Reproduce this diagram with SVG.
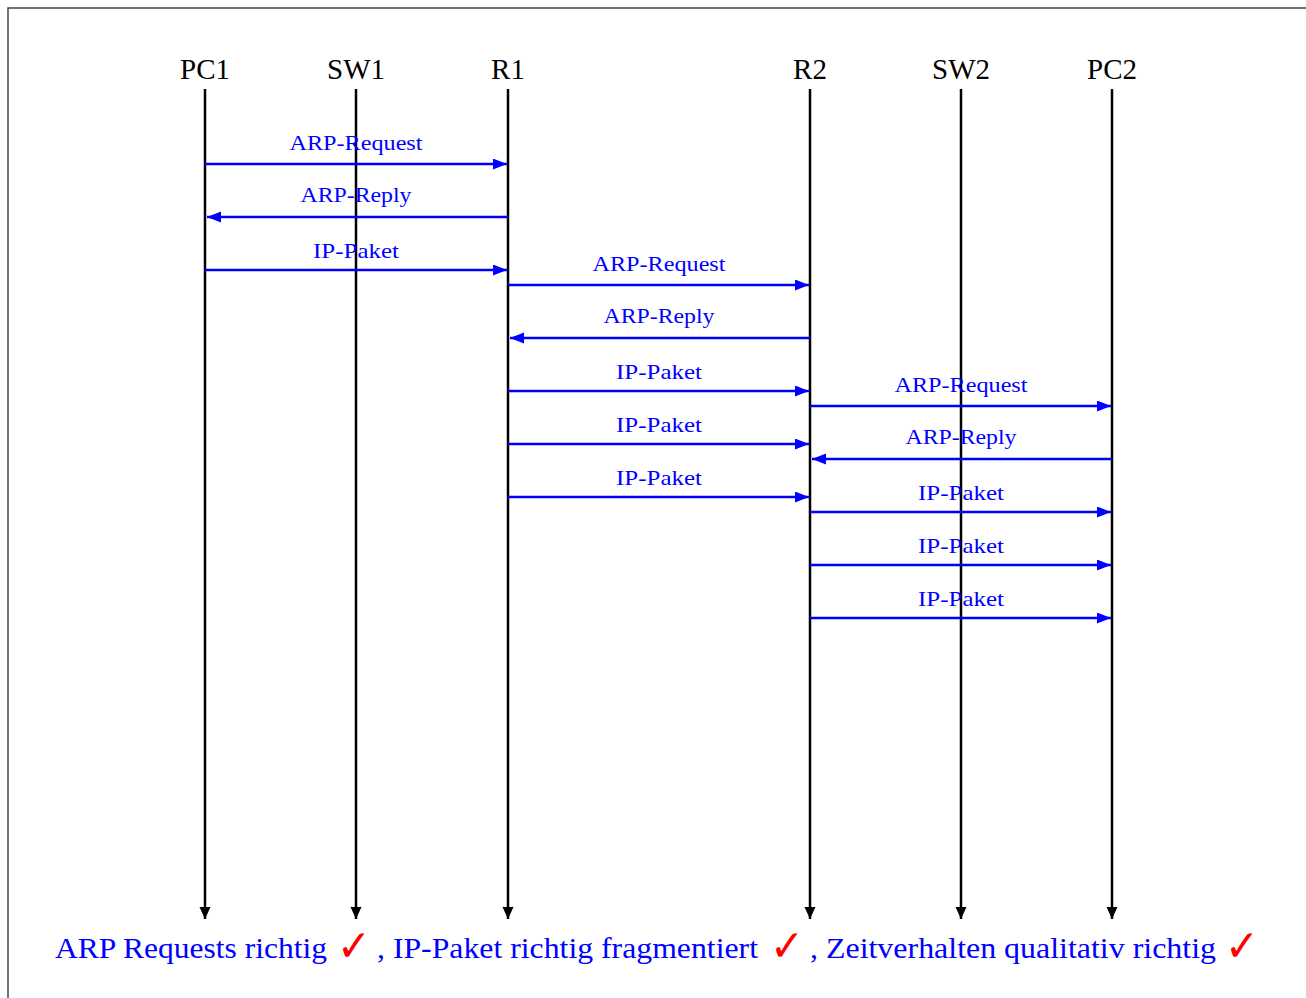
<svg xmlns="http://www.w3.org/2000/svg" width="1306" height="998" viewBox="0 0 1306 998">
<style>
.bg{fill:#fff}
.frame{stroke:#444;stroke-width:1.5;fill:none}
.life{stroke:#000;stroke-width:2.5;fill:none}
.msg{stroke:#0000ff;stroke-width:2.5;fill:none}
.ttl{font-family:"Liberation Serif","Times New Roman",serif;font-size:29px;fill:#000;text-anchor:middle}
.lbl{font-family:"Liberation Serif","Times New Roman",serif;font-size:21px;fill:#0000ff;text-anchor:middle}
.foot{font-family:"Liberation Serif","Times New Roman",serif;font-size:30px;fill:#0000ff}
.chk{font-family:"DejaVu Sans",sans-serif;font-size:44px;fill:#ff0000;font-weight:bold}
</style>
<defs>
<marker id="ah" markerUnits="userSpaceOnUse" markerWidth="14" markerHeight="12" refX="12" refY="5.5" orient="auto">
<path d="M0,0 L12,5.5 L0,11 Z" fill="#000"/>
</marker>
<marker id="bh" markerUnits="userSpaceOnUse" markerWidth="15" markerHeight="12" refX="14" refY="5.5" orient="auto">
<path d="M0,0 L14,5.5 L0,11 Z" fill="#0000ff"/>
</marker>
</defs>
<rect class="bg" x="0" y="0" width="1306" height="998"/>
<path class="frame" d="M8,998 L8,8 L1306,8"/>

<g id="PC1"><text class="ttl" x="205" y="79">PC1</text><line class="life" x1="205" y1="89" x2="205" y2="919" marker-end="url(#ah)"/></g>
<g id="SW1"><text class="ttl" x="356" y="79">SW1</text><line class="life" x1="356" y1="89" x2="356" y2="919" marker-end="url(#ah)"/></g>
<g id="R1"><text class="ttl" x="508" y="79">R1</text><line class="life" x1="508" y1="89" x2="508" y2="919" marker-end="url(#ah)"/></g>
<g id="R2"><text class="ttl" x="810" y="79">R2</text><line class="life" x1="810" y1="89" x2="810" y2="919" marker-end="url(#ah)"/></g>
<g id="SW2"><text class="ttl" x="961" y="79">SW2</text><line class="life" x1="961" y1="89" x2="961" y2="919" marker-end="url(#ah)"/></g>
<g id="PC2"><text class="ttl" x="1112" y="79">PC2</text><line class="life" x1="1112" y1="89" x2="1112" y2="919" marker-end="url(#ah)"/></g>

<g id="connectors">
<line class="msg" x1="205" y1="164" x2="507" y2="164" marker-end="url(#bh)"/>
<text class="lbl" x="356" y="150" textLength="133" lengthAdjust="spacingAndGlyphs">ARP-Request</text>
<line class="msg" x1="508" y1="217" x2="207" y2="217" marker-end="url(#bh)"/>
<text class="lbl" x="356" y="202" textLength="111" lengthAdjust="spacingAndGlyphs">ARP-Reply</text>
<line class="msg" x1="205" y1="270" x2="507" y2="270" marker-end="url(#bh)"/>
<text class="lbl" x="356" y="258" textLength="86" lengthAdjust="spacingAndGlyphs">IP-Paket</text>

<line class="msg" x1="508" y1="285" x2="809" y2="285" marker-end="url(#bh)"/>
<text class="lbl" x="659" y="271" textLength="133" lengthAdjust="spacingAndGlyphs">ARP-Request</text>
<line class="msg" x1="810" y1="338" x2="510" y2="338" marker-end="url(#bh)"/>
<text class="lbl" x="659" y="323" textLength="111" lengthAdjust="spacingAndGlyphs">ARP-Reply</text>
<line class="msg" x1="508" y1="391" x2="809" y2="391" marker-end="url(#bh)"/>
<text class="lbl" x="659" y="379" textLength="86" lengthAdjust="spacingAndGlyphs">IP-Paket</text>
<line class="msg" x1="508" y1="444" x2="809" y2="444" marker-end="url(#bh)"/>
<text class="lbl" x="659" y="432" textLength="86" lengthAdjust="spacingAndGlyphs">IP-Paket</text>
<line class="msg" x1="508" y1="497" x2="809" y2="497" marker-end="url(#bh)"/>
<text class="lbl" x="659" y="485" textLength="86" lengthAdjust="spacingAndGlyphs">IP-Paket</text>

<line class="msg" x1="810" y1="406" x2="1111" y2="406" marker-end="url(#bh)"/>
<text class="lbl" x="961" y="392" textLength="133" lengthAdjust="spacingAndGlyphs">ARP-Request</text>
<line class="msg" x1="1112" y1="459" x2="812" y2="459" marker-end="url(#bh)"/>
<text class="lbl" x="961" y="444" textLength="111" lengthAdjust="spacingAndGlyphs">ARP-Reply</text>
<line class="msg" x1="810" y1="512" x2="1111" y2="512" marker-end="url(#bh)"/>
<text class="lbl" x="961" y="500" textLength="86" lengthAdjust="spacingAndGlyphs">IP-Paket</text>
<line class="msg" x1="810" y1="565" x2="1111" y2="565" marker-end="url(#bh)"/>
<text class="lbl" x="961" y="553" textLength="86" lengthAdjust="spacingAndGlyphs">IP-Paket</text>
<line class="msg" x1="810" y1="618" x2="1111" y2="618" marker-end="url(#bh)"/>
<text class="lbl" x="961" y="606" textLength="86" lengthAdjust="spacingAndGlyphs">IP-Paket</text>
</g>

<g id="footer">
<text class="foot" x="55" y="958" textLength="272" lengthAdjust="spacingAndGlyphs">ARP Requests richtig</text>
<text class="chk" x="337" y="961" textLength="34" lengthAdjust="spacingAndGlyphs">✓</text>
<text class="foot" x="377" y="958" textLength="381" lengthAdjust="spacingAndGlyphs">, IP-Paket richtig fragmentiert</text>
<text class="chk" x="770" y="961" textLength="34" lengthAdjust="spacingAndGlyphs">✓</text>
<text class="foot" x="810" y="958" textLength="406" lengthAdjust="spacingAndGlyphs">, Zeitverhalten qualitativ richtig</text>
<text class="chk" x="1225" y="961" textLength="34" lengthAdjust="spacingAndGlyphs">✓</text>
</g>
</svg>
